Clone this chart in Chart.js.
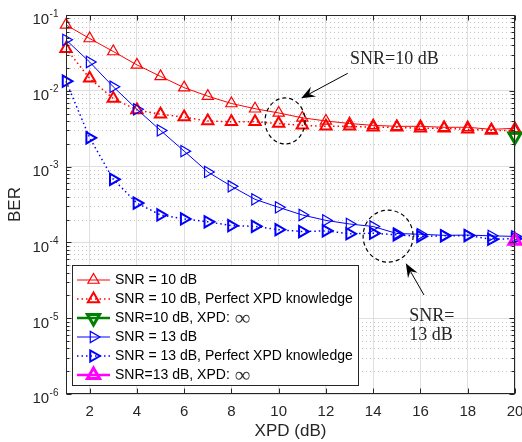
<!DOCTYPE html>
<html>
<head>
<meta charset="utf-8">
<script src="https://cdn.jsdelivr.net/npm/chart.js@4.4.0/dist/chart.umd.min.js"></script>
<style>
    html, body { margin: 0; padding: 0; background: #fff; }
    #wrap { width: 522px; height: 442px; }
</style>
</head>
<body>
<div id="wrap"><canvas id="berChart" width="522" height="442"></canvas></div>
<script>
// 数据
const xpd = [1, 2, 3, 4, 5, 6, 7, 8, 9, 10, 11, 12, 13, 14, 15, 16, 17, 18, 19, 20];
const xTicks = [2, 4, 6, 8, 10, 12, 14, 16, 18, 20];
const yExponents = [-6, -5, -4, -3, -2, -1];

const berSnr10 = [0.074, 0.049, 0.033, 0.022, 0.0155, 0.011, 0.0085, 0.0068, 0.0058, 0.0051,
                  0.0044, 0.0040, 0.0037, 0.0035, 0.0034, 0.0034, 0.0033, 0.0033, 0.0031, 0.0032];
const berSnr10Perfect = [0.036, 0.0146, 0.0079, 0.0056, 0.0049, 0.0045, 0.0040, 0.0039, 0.0039, 0.0037,
                         0.0035, 0.0034, 0.0034, 0.0033, 0.0033, 0.0032, 0.0032, 0.0031, 0.0030, 0.0030];
const berSnr13 = [0.047, 0.024, 0.0113, 0.0057, 0.0030, 0.0016, 0.00085, 0.00055, 0.00037, 0.00029,
                  0.00023, 0.000195, 0.000175, 0.000162, 0.000131, 0.000128, 0.000124, 0.000125, 0.000122, 0.000120];
const berSnr13Perfect = [0.0134, 0.0024, 0.00068, 0.00033, 0.00023, 0.000204, 0.000187, 0.000166, 0.000163, 0.000147,
                         0.000139, 0.000142, 0.000130, 0.000132, 0.000126, 0.000120, 0.000122, 0.000123, 0.000110, 0.000112];
const xpdInf = [20];
const berSnr10Inf = [0.0025];
const berSnr13Inf = [0.000105];

const seriesLabels = [
    'SNR = 10 dB',
    'SNR = 10 dB, Perfect XPD knowledge',
    'SNR=10 dB, XPD: \u221E',
    'SNR = 13 dB',
    'SNR = 13 dB, Perfect XPD knowledge',
    'SNR=13 dB, XPD: \u221E'
];

// 标注（数据坐标）
const annoEllipses = [
    { x: 10.27, y: 4.0e-3, rx: 20, ry: 23 },
    { x: 14.63, y: 1.21e-4, rx: 25, ry: 26 }
];
const annoArrows = [
    { from: [12.92, 1.70e-2], to: [10.95, 7.96e-3] },
    { from: [16.15, 2.02e-5], to: [15.38, 5.3e-5] }
];
const annoTexts = [
    { text: 'SNR=10 dB', x: 13.02, y: 2.26e-2 },
    { text: 'SNR=', x: 15.52, y: 9.3e-6 },
    { text: '13 dB', x: 15.52, y: 5.15e-6 }
];

const axisColor = '#262626';
const sansFont = '"Liberation Sans", Arial, sans-serif';
const serifFont = '"Liberation Serif", "Times New Roman", serif';

function toPoints(xs, ys) {
    return ys.map((v, i) => ({ x: xs[i], y: v }));
}

function makeSeries(label, xs, ys, style) {
    return {
        label: label,
        data: toPoints(xs, ys),
        borderColor: style.color,
        borderWidth: style.lineWidth,
        borderDash: style.dash || [],
        pointStyle: 'triangle',
        pointRotation: style.rotation,
        pointRadius: style.radius,
        pointBorderWidth: style.markerWidth,
        pointBorderColor: style.color,
        pointBackgroundColor: 'rgba(0,0,0,0)',
        tension: 0,
        clip: false,
        order: style.order
    };
}

const seriesStyles = [
    { color: '#ff0000', lineWidth: 1, rotation: 0, radius: 6.5, markerWidth: 1.2, order: 6 },
    { color: '#ff0000', lineWidth: 1.5, dash: [1.5, 3], rotation: 0, radius: 6.5, markerWidth: 2, order: 5 },
    { color: '#008000', lineWidth: 2.5, rotation: 180, radius: 7, markerWidth: 3, order: 4 },
    { color: '#0000ff', lineWidth: 1, rotation: 90, radius: 6.5, markerWidth: 1.2, order: 3 },
    { color: '#0000ff', lineWidth: 1.5, dash: [1.5, 3], rotation: 90, radius: 6.5, markerWidth: 2, order: 2 },
    { color: '#ff00ff', lineWidth: 2.5, rotation: 0, radius: 7, markerWidth: 3, order: 1 }
];

// 三角形标记
function drawTriangle(ctx, x, y, r, rotationDeg) {
    let rad = rotationDeg * Math.PI / 180;
    ctx.beginPath();
    ctx.moveTo(x + Math.sin(rad) * r, y - Math.cos(rad) * r);
    rad += 2 * Math.PI / 3;
    ctx.lineTo(x + Math.sin(rad) * r, y - Math.cos(rad) * r);
    rad += 2 * Math.PI / 3;
    ctx.lineTo(x + Math.sin(rad) * r, y - Math.cos(rad) * r);
    ctx.closePath();
    ctx.stroke();
}

// MATLAB 风格坐标轴：次网格、刻度、边框、上标刻度标签
const matlabAxes = {
    id: 'matlabAxes',
    beforeDatasetsDraw(chart) {
        const { ctx, chartArea: a, scales: { y } } = chart;
        ctx.save();
        ctx.strokeStyle = '#c4c4c4';
        ctx.lineWidth = 1;
        ctx.setLineDash([1, 3]);
        yExponents.slice(0, -1).forEach(e => {
            for (let m = 2; m <= 9; m++) {
                const py = Math.round(y.getPixelForValue(m * Math.pow(10, e))) + 0.5;
                ctx.beginPath();
                ctx.moveTo(a.left, py);
                ctx.lineTo(a.right, py);
                ctx.stroke();
            }
        });
        ctx.restore();
    },
    afterDatasetsDraw(chart) {
        const { ctx, chartArea: a, scales: { x, y } } = chart;
        ctx.save();
        ctx.strokeStyle = axisColor;
        ctx.lineWidth = 1;
        ctx.setLineDash([]);
        const L = Math.round(a.left) + 0.5, R = Math.round(a.right) - 0.5;
        const T = Math.round(a.top) + 0.5, B = Math.round(a.bottom) - 0.5;

        ctx.beginPath();
        // y 刻度
        yExponents.forEach((e, k) => {
            const py = Math.round(y.getPixelForValue(Math.pow(10, e))) + 0.5;
            ctx.moveTo(L, py); ctx.lineTo(L + 5, py);
            ctx.moveTo(R, py); ctx.lineTo(R - 5, py);
            if (k < yExponents.length - 1) {
                for (let m = 2; m <= 9; m++) {
                    const pm = Math.round(y.getPixelForValue(m * Math.pow(10, e))) + 0.5;
                    ctx.moveTo(L, pm); ctx.lineTo(L + 3, pm);
                    ctx.moveTo(R, pm); ctx.lineTo(R - 3, pm);
                }
            }
        });
        // x 刻度
        xTicks.forEach(v => {
            const px = Math.round(x.getPixelForValue(v)) + 0.5;
            ctx.moveTo(px, B); ctx.lineTo(px, B - 5);
            ctx.moveTo(px, T); ctx.lineTo(px, T + 5);
        });
        ctx.stroke();
        ctx.strokeRect(L, T, R - L, B - T);

        // y 刻度标签 10^n
        ctx.fillStyle = axisColor;
        ctx.textBaseline = 'alphabetic';
        yExponents.forEach(e => {
            const py = y.getPixelForValue(Math.pow(10, e));
            const expText = String(e);
            ctx.font = '10px ' + sansFont;
            ctx.textAlign = 'right';
            const right = a.left - 7.5;
            ctx.fillText(expText, right, py + 1.6);
            const w = ctx.measureText(expText).width;
            ctx.font = '15px ' + sansFont;
            ctx.fillText('10', right - w - 0.5, py + 9.4);
        });
        ctx.restore();
    }
};

// 标注：虚线椭圆、箭头、文字
const annotations = {
    id: 'annotations',
    afterDatasetsDraw(chart) {
        const { ctx, scales: { x, y } } = chart;
        ctx.save();
        ctx.strokeStyle = '#000';
        ctx.lineWidth = 1.2;
        ctx.setLineDash([4, 3]);
        annoEllipses.forEach(el => {
            ctx.beginPath();
            ctx.ellipse(x.getPixelForValue(el.x), y.getPixelForValue(el.y), el.rx, el.ry, 0, 0, Math.PI * 2);
            ctx.stroke();
        });
        ctx.setLineDash([]);
        ctx.lineWidth = 1;
        ctx.fillStyle = '#000';
        annoArrows.forEach(ar => {
            const x0 = x.getPixelForValue(ar.from[0]), y0 = y.getPixelForValue(ar.from[1]);
            const x1 = x.getPixelForValue(ar.to[0]), y1 = y.getPixelForValue(ar.to[1]);
            const len = Math.hypot(x1 - x0, y1 - y0);
            const ux = (x1 - x0) / len, uy = (y1 - y0) / len;
            const nx = -uy, ny = ux;
            const hl = 14, hw = 5.5;
            const notchX = x1 - ux * hl * 0.65, notchY = y1 - uy * hl * 0.65;
            ctx.beginPath();
            ctx.moveTo(x0, y0);
            ctx.lineTo(notchX, notchY);
            ctx.stroke();
            ctx.beginPath();
            ctx.moveTo(x1, y1);
            ctx.lineTo(x1 - ux * hl + nx * hw, y1 - uy * hl + ny * hw);
            ctx.lineTo(notchX, notchY);
            ctx.lineTo(x1 - ux * hl - nx * hw, y1 - uy * hl - ny * hw);
            ctx.closePath();
            ctx.fill();
        });
        ctx.fillStyle = axisColor;
        ctx.font = '18px ' + serifFont;
        ctx.textAlign = 'left';
        ctx.textBaseline = 'alphabetic';
        annoTexts.forEach(t => {
            ctx.fillText(t.text, x.getPixelForValue(t.x), y.getPixelForValue(t.y));
        });
        ctx.restore();
    }
};

// 图例（左下角，线段 + 标记）
const matlabLegend = {
    id: 'matlabLegend',
    afterDraw(chart) {
        const { ctx } = chart;
        const box = { left: 72.5, top: 265.5, width: 286, height: 120 };
        ctx.save();
        ctx.fillStyle = '#fff';
        ctx.fillRect(box.left, box.top, box.width, box.height);
        ctx.strokeStyle = axisColor;
        ctx.lineWidth = 1;
        ctx.strokeRect(box.left, box.top, box.width, box.height);
        chart.data.datasets.forEach((ds, i) => {
            const st = seriesStyles[i];
            const ry = box.top + 14.5 + i * 19;
            ctx.strokeStyle = st.color;
            ctx.lineWidth = st.lineWidth;
            ctx.setLineDash(st.dash || []);
            ctx.beginPath();
            ctx.moveTo(77, ry);
            ctx.lineTo(110, ry);
            ctx.stroke();
            ctx.setLineDash([]);
            ctx.lineWidth = st.markerWidth;
            drawTriangle(ctx, 93.5, ry, st.radius, st.rotation);

            ctx.fillStyle = '#000';
            ctx.textAlign = 'left';
            ctx.textBaseline = 'middle';
            ctx.font = '14px ' + sansFont;
            const label = ds.label;
            if (label.endsWith('\u221E')) {
                const head = label.slice(0, -1);
                ctx.fillText(head, 115, ry + 0.5);
                const w = ctx.measureText(head).width;
                ctx.fillStyle = '#333';
                ctx.font = '22px ' + serifFont;
                ctx.fillText('\u221E', 115 + w + 1, ry + 1.5);
            } else {
                ctx.fillText(label, 115, ry + 0.5);
            }
        });
        ctx.restore();
    }
};

document.addEventListener('DOMContentLoaded', function() {
    const ctx = document.getElementById('berChart');
    new Chart(ctx, {
        type: 'line',
        data: {
            datasets: [
                makeSeries(seriesLabels[0], xpd, berSnr10, seriesStyles[0]),
                makeSeries(seriesLabels[1], xpd, berSnr10Perfect, seriesStyles[1]),
                makeSeries(seriesLabels[2], xpdInf, berSnr10Inf, seriesStyles[2]),
                makeSeries(seriesLabels[3], xpd, berSnr13, seriesStyles[3]),
                makeSeries(seriesLabels[4], xpd, berSnr13Perfect, seriesStyles[4]),
                makeSeries(seriesLabels[5], xpdInf, berSnr13Inf, seriesStyles[5])
            ]
        },
        options: {
            responsive: false,
            animation: false,
            events: [],
            layout: { autoPadding: false, padding: { top: 15, right: 7, left: 0, bottom: 0 } },
            plugins: {
                legend: { display: false },
                tooltip: { enabled: false }
            },
            scales: {
                x: {
                    type: 'linear',
                    min: 1,
                    max: 20,
                    afterBuildTicks: s => { s.ticks = xTicks.map(v => ({ value: v })); },
                    afterFit: s => { s.height = 48; s.paddingLeft = 0; s.paddingRight = 0; },
                    grid: { color: '#dfdfdf', drawTicks: false },
                    border: { display: false },
                    ticks: {
                        font: { family: sansFont, size: 15 },
                        color: axisColor,
                        padding: 9,
                        maxRotation: 0,
                        autoSkip: false
                    },
                    title: {
                        display: true,
                        text: 'XPD (dB)',
                        font: { family: sansFont, size: 17 },
                        color: axisColor,
                        padding: 0
                    }
                },
                y: {
                    type: 'logarithmic',
                    min: 1e-6,
                    max: 1e-1,
                    afterBuildTicks: s => { s.ticks = yExponents.map(e => ({ value: Math.pow(10, e) })); },
                    afterFit: s => { s.width = 66; s.paddingTop = 0; s.paddingBottom = 0; },
                    grid: { color: '#dfdfdf', drawTicks: false },
                    border: { display: false },
                    ticks: { display: false },
                    title: {
                        display: true,
                        text: 'BER',
                        font: { family: sansFont, size: 17 },
                        color: axisColor,
                        padding: { top: 5, bottom: 0 }
                    }
                }
            }
        },
        plugins: [matlabAxes, annotations, matlabLegend]
    });
});
</script>
</body>
</html>
